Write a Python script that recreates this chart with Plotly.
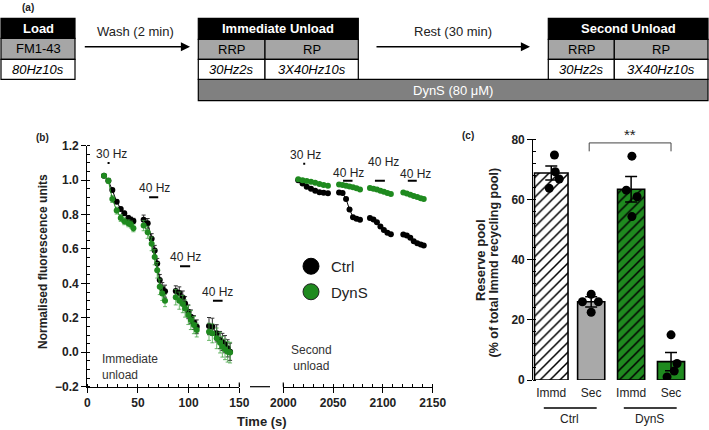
import plotly.graph_objects as go

W, H = 709, 430
def px(x): return x / W
def py(y): return 1 - y / H

FONT = "Liberation Sans, Arial, sans-serif"
GREEN = "#1f8a1f"
GREEN_ERR = "rgba(60,160,60,0.75)"

# ---------------- data: panel (b) ----------------
t_imm = [16.5, 20.8, 24.7, 29, 33, 36.5, 40.5, 43, 45.5, None,
         55.6, 59.6, 63.5, 66.5, 69, 71.5, 74, 76.7, None,
         87.3, 90.8, 94.2, 96.5, 99.7, 102.2, 105.2, 108, None,
         120.1, 123.4, 127.7, 131, 133.3, 135.9, 138.5, 140.9]
ctrl_imm = [1.025, 0.996, 0.942, 0.875, 0.832, 0.807, 0.780, 0.770, 0.763, None,
            0.770, 0.749, 0.659, 0.591, 0.515, 0.420, 0.370, 0.355, None,
            0.356, 0.345, 0.318, 0.283, 0.235, 0.206, 0.173, 0.148, None,
            0.152, 0.148, 0.110, 0.071, 0.060, 0.047, 0.023, 0.003]
ctrl_imm_err = [0.005, 0.01, 0.01, 0.01, 0.01, 0.012, 0.015, 0.015, 0.015, None,
                0.027, 0.028, 0.03, 0.03, 0.03, 0.032, 0.035, 0.035, None,
                0.03, 0.035, 0.038, 0.04, 0.04, 0.04, 0.04, 0.04, None,
                0.05, 0.05, 0.05, 0.05, 0.05, 0.05, 0.05, 0.05]
dyns_imm = [1.025, 0.996, 0.890, 0.823, 0.780, 0.761, 0.749, 0.742, 0.720, None,
            0.736, 0.697, 0.630, 0.553, 0.476, 0.380, 0.341, 0.300, None,
            0.320, 0.300, 0.280, 0.254, 0.216, 0.187, 0.158, 0.129, None,
            0.119, 0.110, 0.081, 0.056, 0.032, 0.017, 0.003, -0.002]
dyns_imm_err = [0.01, 0.015, 0.02, 0.02, 0.02, 0.02, 0.02, 0.02, 0.02, None,
                0.03, 0.035, 0.04, 0.045, 0.045, 0.045, 0.04, 0.035, None,
                0.045, 0.05, 0.05, 0.05, 0.055, 0.055, 0.05, 0.04, None,
                0.05, 0.055, 0.06, 0.06, 0.06, 0.06, 0.06, 0.06]

t_sec = [2015, 2019.3, 2023.5, 2027.8, 2032, 2036.3, 2040.5, 2044.8, None,
         2056, 2059.5, 2063, 2066.5, 2070, 2073.5, 2077, None,
         2087, 2090.5, 2094, 2097.5, 2101, 2104.5, 2108, None,
         2120.5, 2124, 2127.5, 2131, 2134.5, 2138, 2141]
ctrl_sec = [1.000, 0.980, 0.962, 0.950, 0.938, 0.930, 0.926, 0.924, None,
            0.928, 0.925, 0.890, 0.830, 0.785, 0.775, 0.770, None,
            0.780, 0.772, 0.755, 0.730, 0.710, 0.695, 0.686, None,
            0.684, 0.678, 0.665, 0.645, 0.634, 0.626, 0.620]
dyns_sec = [1.005, 1.000, 0.995, 0.990, 0.985, 0.978, 0.972, 0.967, None,
            0.975, 0.972, 0.968, 0.963, 0.958, 0.953, 0.945, None,
            0.954, 0.950, 0.945, 0.938, 0.932, 0.925, 0.919, None,
            0.928, 0.922, 0.915, 0.908, 0.902, 0.895, 0.890]
sec_err = [0.006 if v is not None else None for v in ctrl_sec]

stim_labels = ["30 Hz", "40 Hz", "40 Hz", "40 Hz"]
stim_imm_start = [20, 61, 91.5, 124]
stim_imm_end = [22, 70, 101.5, 133.5]
stim_imm_y = [1.1, 0.9, 0.5, 0.3]
stim_sec_start = [2020, 2060, 2092, 2125]
stim_sec_end = [2022, 2069.5, 2102, 2134]
stim_sec_y = [1.095, 0.996, 0.996, 0.996]

# ---------------- data: panel (c) ----------------
conditions = ["Immd", "Sec", "Immd", "Sec"]
groups = ["Ctrl", "DynS"]
rp_mean = [68.8, 26.0, 63.4, 6.1]
rp_sem = [2.3, 1.7, 4.2, 3.0]
rp_points = [[74.8, 69.2, 66.8, 63.7],
             [28.5, 26.0, 26.0, 22.5],
             [74.4, 63.1, 60.9, 54.3],
             [15.0, 5.5, 3.0, 1.0]]

# ---------------- style constants ----------------
bar_pos = [0, 1, 2, 3]
bar_width = [0.84, 0.68, 0.68, 0.68]
bar_fill = ["white", "#a9a9a9", GREEN, GREEN]
bar_hatch = ["/", "", "/", ""]
jitter = [[0.08, 0.1, 0.2, -0.05], [0, -0.22, 0.18, 0],
          [0.02, -0.12, 0.15, 0.02], [0, 0.15, 0.08, -0.1]]
lab_dx_imm = [3, 1, 0, 0]
lab_dy_imm = [9, 9.5, 9, 8.5]
lab_dx_sec = [1, 1, 4, 3]
lab_dy_sec = [8.5, 7.5, 18.5, 7]
group_line_px = [(542.3, 596.7), (622.3, 676.7)]

fig = go.Figure()

# ---- panel (b) traces ----
def series(x, y, err, color, ecolor, xa):
    fig.add_trace(go.Scatter(
        x=x, y=y, mode="lines+markers", xaxis=xa, yaxis="y",
        line=dict(color=color, width=1), marker=dict(color=color, size=6),
        error_y=dict(type="data", array=err, color=ecolor, thickness=1, width=2),
        connectgaps=False, showlegend=False, hoverinfo="skip"))

series(t_imm, ctrl_imm, ctrl_imm_err, "black", "#333333", "x")
series(t_imm, dyns_imm, dyns_imm_err, GREEN, GREEN_ERR, "x")
series(t_sec, ctrl_sec, sec_err, "black", "#333333", "x2")
series(t_sec, dyns_sec, sec_err, GREEN, GREEN_ERR, "x2")

# legend entries
fig.add_trace(go.Scatter(x=[None], y=[None], mode="markers", xaxis="x2", yaxis="y",
                         name="Ctrl", marker=dict(color="black", size=18,
                                                  line=dict(color="black", width=1)),
                         legendgroup="a"))
fig.add_trace(go.Scatter(x=[None], y=[None], mode="markers", xaxis="x2", yaxis="y",
                         name="DynS", marker=dict(color=GREEN, size=18,
                                                  line=dict(color="#222", width=1)),
                         legendgroup="b"))

# ---- panel (c) traces ----
for i in range(len(rp_mean)):
    pat = dict(shape=bar_hatch[i], fillmode="replace", bgcolor=bar_fill[i],
               fgcolor="black", fgopacity=1, size=7, solidity=0.22) if bar_hatch[i] else None
    fig.add_trace(go.Bar(
        x=[bar_pos[i]], y=[rp_mean[i]], width=[bar_width[i]], xaxis="x3", yaxis="y3",
        marker=dict(color=bar_fill[i], line=dict(color="black", width=1.6), pattern=pat),
        error_y=dict(type="data", array=[rp_sem[i]], color="black", thickness=1.5, width=6),
        showlegend=False, hoverinfo="skip"))
for i, pts in enumerate(rp_points):
    fig.add_trace(go.Scatter(
        x=[bar_pos[i] + j for j in jitter[i]], y=pts, mode="markers",
        xaxis="x3", yaxis="y3", marker=dict(color="black", size=9),
        showlegend=False, hoverinfo="skip"))

shapes = []
ann = []

def text(x, y, s, size=12, color="#222", xanchor="center", yanchor="middle", **kw):
    ann.append(dict(xref="paper", yref="paper", x=px(x), y=py(y), text=s,
                    showarrow=False, xanchor=xanchor, yanchor=yanchor,
                    font=dict(size=size, color=color, family=FONT), **kw))

def pline(x0, y0, x1, y1, w=1.2, color="black"):
    shapes.append(dict(type="line", xref="paper", yref="paper", x0=px(x0), x1=px(x1),
                       y0=py(y0), y1=py(y1), line=dict(color=color, width=w),
                       layer="above"))

def hline_arrow(x0, x1, y, w=1.2, head=0):
    ann.append(dict(xref="paper", yref="paper", x=px(x1), y=py(y), ax=-(x1 - x0), ay=0,
                    axref="pixel", ayref="pixel", text="", showarrow=True,
                    arrowhead=head, arrowsize=1.3, arrowwidth=w, arrowcolor="black",
                    standoff=0, startstandoff=0))

# stimulus bars + labels
for s, e, yv, lab, dx, dy in zip(stim_imm_start, stim_imm_end, stim_imm_y, stim_labels,
                                 lab_dx_imm, lab_dy_imm):
    shapes.append(dict(type="line", xref="x", yref="y", x0=s, x1=e, y0=yv, y1=yv,
                       line=dict(color="black", width=2)))
    ann.append(dict(xref="x", yref="y", x=(s + e) / 2, y=yv, text=lab, showarrow=False,
                    xanchor="center", yanchor="middle",
                    xshift=dx, yshift=dy, font=dict(size=12, color="#222", family=FONT)))
for s, e, yv, lab, dx, dy in zip(stim_sec_start, stim_sec_end, stim_sec_y, stim_labels,
                                 lab_dx_sec, lab_dy_sec):
    shapes.append(dict(type="line", xref="x2", yref="y", x0=s, x1=e, y0=yv, y1=yv,
                       line=dict(color="black", width=2)))
    ann.append(dict(xref="x2", yref="y", x=(s + e) / 2, y=yv, text=lab, showarrow=False,
                    xanchor="center", yanchor="middle",
                    xshift=dx, yshift=dy, font=dict(size=12, color="#222", family=FONT)))

# axis break
pline(250, 386.7, 270, 386.7)
pline(239.3, 386.7, 239.3, 382.5)
pline(283.3, 386.7, 283.3, 382.5)

text(100, 367, "Immediate<br>unload", color="#333", xanchor="left", align="left")
text(311.7, 357.5, "Second<br>unload", color="#333", align="center")
text(43, 262, "<b>Normalised fluorescence units</b>", textangle=-90)
text(261.5, 421, "<b>Time (s)</b>", size=13)

# panel (c) annotations
text(480, 260, "<b>Reserve pool</b>", size=13, textangle=-90)
text(493.5, 263, "<b>(% of total Immd recycling pool)</b>", size=12.5, textangle=-90)
shapes.append(dict(type="path", xref="x3", yref="y3",
                   path="M 0.95,76 L 0.95,78.8 L 3,78.8 L 3,76",
                   line=dict(color="#444", width=1)))
ann.append(dict(xref="x3", yref="y3", x=1.97, y=78.8, text="**", showarrow=False,
                xanchor="center", yanchor="middle",
                yshift=8, font=dict(size=15, color="#222", family=FONT)))
for g, (l0, l1) in zip(groups, group_line_px):
    hline_arrow(l0, l1, 408, w=1.3)
    text((l0 + l1) / 2, 418.5, g, 12)

# panel labels
for t, x, y in [("(a)", 28, 7), ("(b)", 42, 137), ("(c)", 468, 136)]:
    text(x, y, f"<b>{t}</b>", size=10)

# ---------------- panel (a) schematic ----------------
def rect(x0, y0, x1, y1, fill, lw=1.2):
    shapes.append(dict(type="rect", xref="paper", yref="paper", x0=px(x0), x1=px(x1),
                       y0=py(y1), y1=py(y0), fillcolor=fill,
                       line=dict(color="black", width=lw), layer="above"))

GRAY = "#a6a6a6"
DARK = "#808080"
rect(198.3, 79.3, 708, 100.7, DARK)
text(453.3, 90, "DynS (80 μM)", size=13, color="white")
rect(1, 18.3, 75, 38.3, "black"); text(38, 28.3, "<b>Load</b>", 13, "white")
rect(1, 38.3, 75, 59.3, GRAY); text(38, 48.8, "FM1-43", 13, "black")
rect(1, 59.3, 75, 79.3, "white"); text(38, 69.3, "<i>80Hz10s</i>", 13, "black")
for (a, b, c, title) in [(198.3, 265, 358.3, "Immediate Unload"),
                         (548.3, 614.3, 708, "Second Unload")]:
    rect(a, 18.3, c, 39.3, "black"); text((a + c) / 2, 28.8, f"<b>{title}</b>", 13, "white")
    rect(a, 39.3, b, 59.3, GRAY); text((a + b) / 2, 49.3, "RRP", 13, "black")
    rect(b, 39.3, c, 59.3, GRAY); text((b + c) / 2, 49.3, "RP", 13, "black")
    rect(a, 59.3, b, 79.3, "white"); text((a + b) / 2, 69.3, "<i>30Hz2s</i>", 13, "black")
    rect(b, 59.3, c, 79.3, "white"); text((b + c) / 2, 69.3, "<i>3X40Hz10s</i>", 13, "black")
for (x0, x1, txt, tx) in [(83.3, 190, "Wash (2 min)", 135), (375, 530, "Rest (30 min)", 453.3)]:
    hline_arrow(x0, x1, 46.7, w=1.4, head=2)
    text(tx, 31.7, txt, 13, "#222")

axis_common = dict(showline=True, linecolor="black", linewidth=1.2, showgrid=False,
                   zeroline=False, ticks="outside", ticklen=5, tickwidth=1.2,
                   tickcolor="black", automargin=False,
                   tickfont=dict(size=12, color="#222", family=FONT, weight="bold"))

fig.update_layout(
    template="none",
    width=W, height=H, margin=dict(l=0, r=0, t=0, b=0, pad=0, autoexpand=False),
    paper_bgcolor="white", plot_bgcolor="rgba(0,0,0,0)",
    font=dict(family=FONT),
    xaxis=dict(domain=[px(87.3), px(239.3)], range=[0, 150], anchor="y", dtick=50,
               minor=dict(dtick=10, ticks="inside", ticklen=3, tickcolor="black"),
               **axis_common),
    xaxis2=dict(domain=[px(283.3), px(432.7)], range=[2000, 2150], anchor="y", dtick=50,
                minor=dict(dtick=10, ticks="inside", ticklen=3, tickcolor="black"),
                **axis_common),
    yaxis=dict(domain=[py(386.7), py(145.7)], range=[-0.2, 1.2], anchor="x",
               tickvals=[-0.2, 0, 0.2, 0.4, 0.6, 0.8, 1.0, 1.2], tickformat=".1f",
               minor=dict(dtick=0.05, ticks="inside", ticklen=3, tickcolor="black"),
               **axis_common),
    xaxis3=dict(domain=[px(533.3), px(689)], range=[-0.45, 3.45], anchor="y3",
                showline=False, showgrid=False, zeroline=False, ticks="", automargin=False,
                tickvals=bar_pos, ticktext=conditions, ticklabelstandoff=4,
                tickfont=dict(size=12, color="#222", family=FONT)),
    yaxis3=dict(domain=[py(380), py(139.3)], range=[0, 80], anchor="x3", dtick=20,
                minor=dict(dtick=4, ticks="inside", ticklen=3, tickcolor="black"),
                **axis_common),
    legend=dict(x=px(291), y=py(250), xanchor="left", yanchor="top",
                font=dict(size=15, color="#222", family=FONT),
                bgcolor="rgba(0,0,0,0)", itemsizing="trace", tracegroupgap=3),
    shapes=shapes, annotations=ann, barmode="overlay",
)

fig.write_html("out.html", config={"displayModeBar": False},
               post_script="document.body.style.margin='0';document.body.style.overflow='hidden';")
